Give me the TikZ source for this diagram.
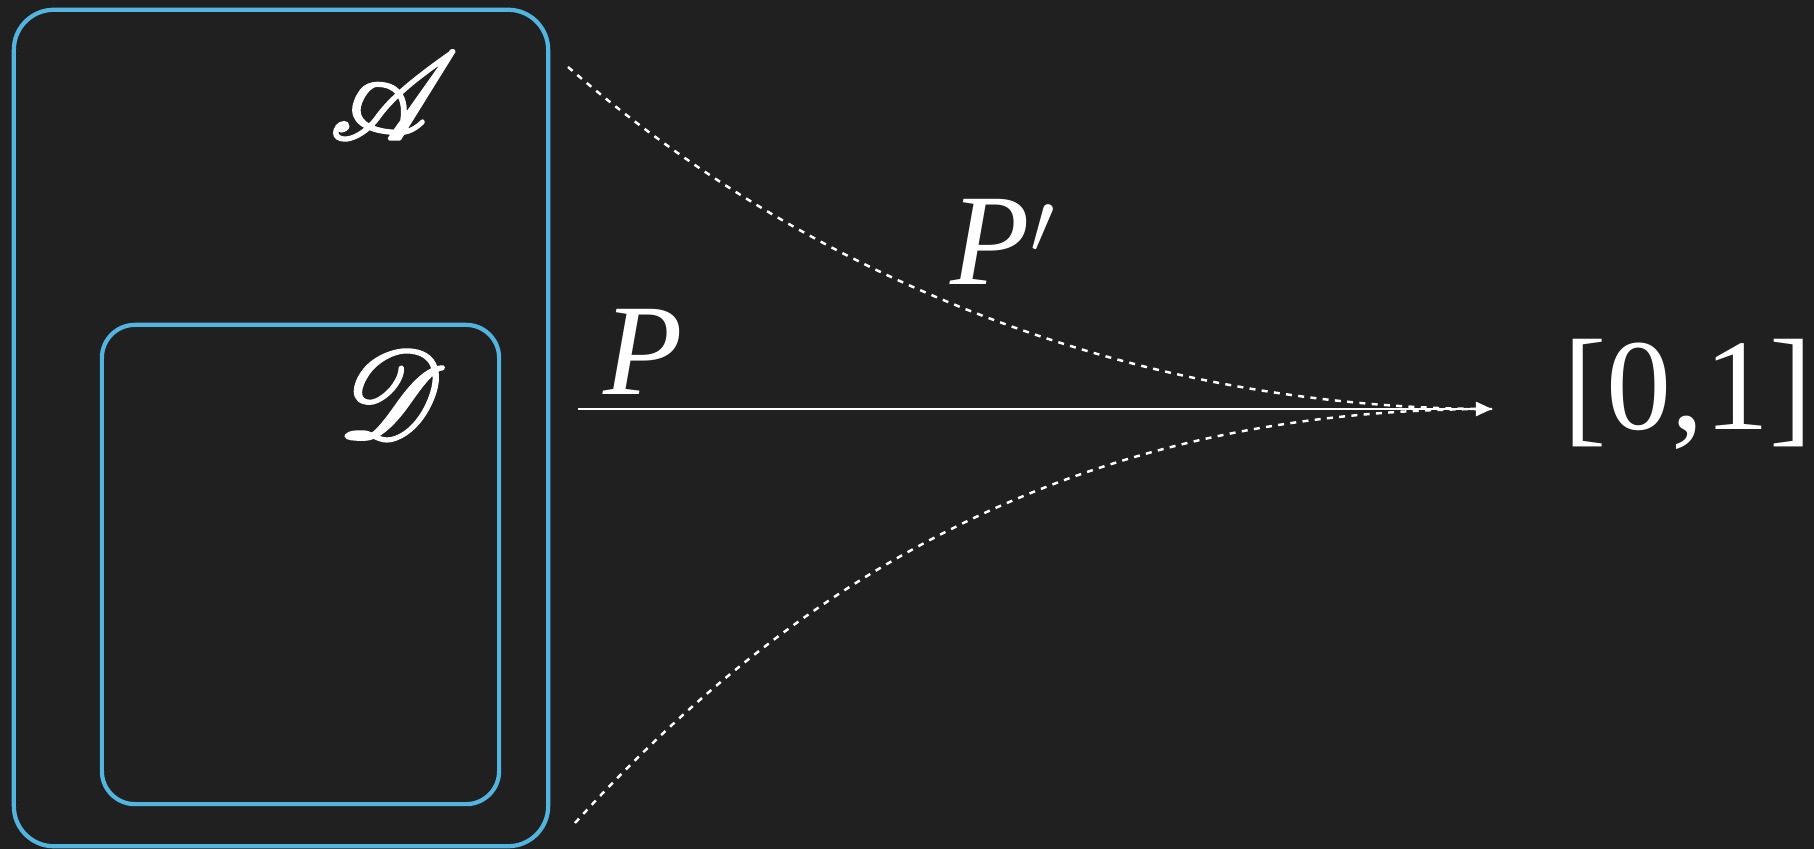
\documentclass[tikz,border=0pt]{standalone}
\usepackage{fontspec}
\setmainfont{Liberation Serif}
\usepackage{mathrsfs}
\usepackage{graphicx}
\usepackage{tikz}
\usetikzlibrary{arrows.meta}
\usetikzlibrary{positioning}

\definecolor{board}{RGB}{32,32,32}
\definecolor{setblue}{RGB}{84,180,224}
% script letter, scaled up and drawn a little heavier
\newcommand{\bigscr}[1]{\special{pdf:literal direct 2 Tr 0.5 w}\scalebox{1.42}{$\mathscr{#1}$}\special{pdf:literal direct 0 Tr}}

\begin{document}
\begin{tikzpicture}[
    x=0.01cm, y=-0.01cm,
    setbox/.style={rectangle, draw=setblue, line width=1.2pt, inner sep=0pt},
    label/.style={text=white, inner sep=0pt, font=\fontsize{37}{40}\selectfont},
    arrow/.style={-{Triangle[length=4.6pt, width=4pt]}, draw=white, line width=0.75pt},
    fade/.style={draw=white, line width=0.7pt, dash pattern=on 1.7pt off 1.8pt}
]
% chalkboard
\fill[board] (0,0) rectangle (1814,849);
\useasboundingbox (0,0) rectangle (1814,849);

% sets
\node (algebra) [setbox, minimum width=5.34cm, minimum height=8.36cm, rounded corners=0.4cm] at (281,428) {};
\node (domain) [setbox, minimum width=3.97cm, minimum height=4.79cm, rounded corners=0.33cm] at (300.5,564.5) {};
\node (lblA) [label] at (394,96) {\bigscr{A}};
\node (lblD) [label] at (392,394) {\bigscr{D}};

% maps
\coordinate (src) at (578,409);
\coordinate (tip) at (1492,409);
\coordinate (upper) at (568,67);
\coordinate (lower) at (575,823);
\node (lblP) [label, anchor=base] at (643,395) {\textit{P}};
\node (lblPp) [label, anchor=base west] at (950,285) {\textit{P}$'$};
\node (unit) [label, anchor=base] at (1688,430) {[0,1]};

\draw [arrow] (src) -- (tip);
\draw [fade] (upper) .. controls (860,320) and (1200,409) .. (tip);
\draw [fade] (lower) .. controls (850,520) and (1150,409) .. (tip);
\end{tikzpicture}
\end{document}
